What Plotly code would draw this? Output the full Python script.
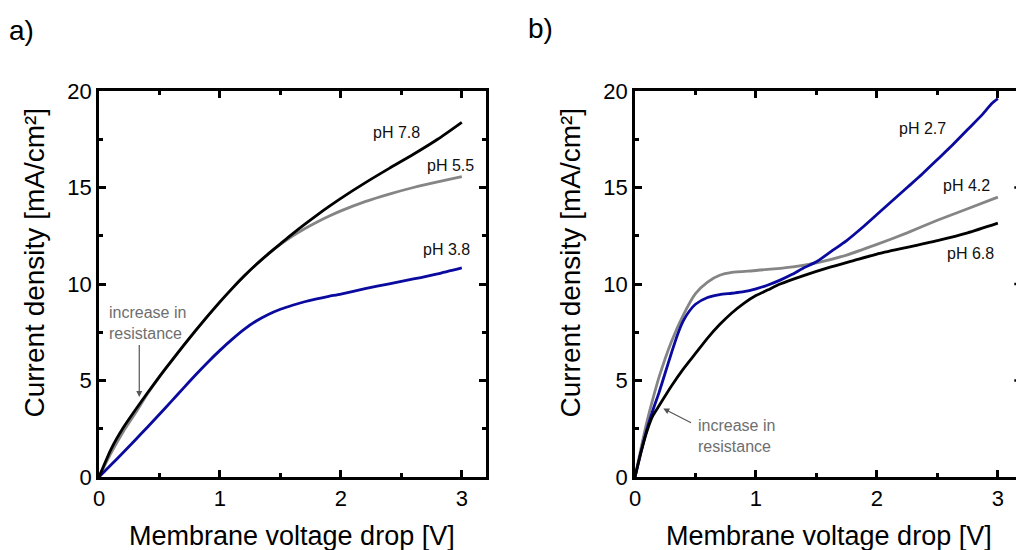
import plotly.graph_objects as go

FONT = "Liberation Sans, Arial, sans-serif"

# ---------------- Panel a) ----------------
a_x = [0, 0.1, 0.2, 0.3, 0.4, 0.5, 0.6, 0.7, 0.8, 0.9, 1.0, 1.1, 1.2, 1.3, 1.4, 1.5,
       1.6, 1.7, 1.8, 1.9, 2.0, 2.2, 2.4, 2.6, 2.8, 3.0]
a_ph78 = [0, 1.45, 2.55, 3.47, 4.35, 5.2, 6.02, 6.82, 7.6, 8.35, 9.07, 9.76, 10.41, 11.01,
          11.56, 12.08, 12.6, 13.09, 13.56, 14.01, 14.44, 15.24, 15.99, 16.72, 17.5, 18.38]
a_ph55 = [0, 1.25, 2.35, 3.3, 4.3, 5.2, 6.02, 6.82, 7.6, 8.35, 9.07, 9.76, 10.41, 11.01,
          11.56, 12.05, 12.48, 12.86, 13.2, 13.51, 13.79, 14.27, 14.66, 15.0, 15.29, 15.56]
a_ph38 = [0, 0.63, 1.27, 1.92, 2.58, 3.25, 3.93, 4.62, 5.30, 5.95, 6.56, 7.13, 7.65, 8.08,
          8.42, 8.69, 8.9, 9.08, 9.23, 9.36, 9.48, 9.76, 10.01, 10.26, 10.53, 10.84]

# ---------------- Panel b) ----------------
b_x27 = [0, 0.05, 0.1, 0.15, 0.2, 0.25, 0.3, 0.35, 0.4, 0.45, 0.5, 0.6, 0.7, 0.8, 0.9,
         1.0, 1.1, 1.2, 1.3, 1.4, 1.5, 1.625, 1.75, 1.875, 2.0, 2.125, 2.25, 2.375,
         2.5, 2.625, 2.75, 2.875, 2.95, 3.0]
b_ph27 = [0, 1.3, 2.5, 3.5, 4.4, 5.4, 6.4, 7.35, 8.1, 8.6, 8.95, 9.3, 9.45, 9.52, 9.6,
          9.75, 9.95, 10.2, 10.5, 10.85, 11.15, 11.7, 12.25, 12.9, 13.6, 14.3, 15.0, 15.7,
          16.45, 17.2, 18.0, 18.8, 19.35, 19.6]
b_x42 = [0, 0.05, 0.1, 0.15, 0.2, 0.3, 0.4, 0.5, 0.6, 0.7, 0.8, 1.0, 1.25, 1.5, 1.75,
         2.0, 2.25, 2.5, 2.75, 3.0]
b_ph42 = [0, 1.5, 2.9, 4.1, 5.2, 7.0, 8.4, 9.5, 10.1, 10.45, 10.6, 10.7, 10.85, 11.1, 11.5,
          12.05, 12.65, 13.3, 13.9, 14.5]
b_x68 = [0, 0.05, 0.1, 0.15, 0.2, 0.3, 0.4, 0.5, 0.6, 0.7, 0.8, 0.9, 1.0, 1.1, 1.2, 1.4,
         1.6, 1.8, 2.0, 2.25, 2.5, 2.75, 3.0]
b_ph68 = [0, 1.3, 2.4, 3.2, 3.7, 4.7, 5.6, 6.4, 7.2, 7.9, 8.5, 9.0, 9.4, 9.7, 10.0, 10.45,
          10.85, 11.2, 11.55, 11.9, 12.25, 12.65, 13.15]

x_ticks = [0, 1, 2, 3]
y_ticks = [0, 5, 10, 15, 20]

BLUE = "#0a0a9e"
GRAY = "#858585"
BLACK = "#000000"

fig = go.Figure()

def line(x, y, color, xa, ya):
    fig.add_trace(go.Scatter(x=x, y=y, mode="lines", xaxis=xa, yaxis=ya,
                             line=dict(color=color, width=2.8, shape="spline", smoothing=0.6),
                             showlegend=False, hoverinfo="skip"))

line(a_x, a_ph55, GRAY, "x", "y")
line(a_x, a_ph38, BLUE, "x", "y")
line(a_x, a_ph78, BLACK, "x", "y")

line(b_x42, b_ph42, GRAY, "x2", "y2")
line(b_x27, b_ph27, BLUE, "x2", "y2")
line(b_x68, b_ph68, BLACK, "x2", "y2")

def xax(domain, rng, anchor):
    return dict(domain=domain, range=rng, anchor=anchor, showline=True, linewidth=2.5,
                linecolor="black", mirror="ticks", ticks="inside", ticklen=7, tickwidth=2.5,
                tickcolor="black", tickvals=x_ticks, ticktext=[str(v) for v in x_ticks],
                showgrid=False, zeroline=False,
                tickfont=dict(size=22, color="black", family=FONT),
                minor=dict(ticks="inside", ticklen=4, tickwidth=2.5, tickcolor="black",
                           dtick=0.5, tick0=0, showgrid=False))

def yax(anchor, mirror):
    return dict(domain=[0, 1], range=[0, 20], anchor=anchor, showline=True, linewidth=2.5,
                linecolor="black", mirror=mirror, ticks="inside", ticklen=7, tickwidth=2.5,
                tickcolor="black", tickvals=y_ticks, ticktext=[str(v) for v in y_ticks],
                showgrid=False, zeroline=False,
                tickfont=dict(size=22, color="black", family=FONT),
                minor=dict(ticks="inside", ticklen=4, tickwidth=2.5, tickcolor="black",
                           dtick=2.5, tick0=0, showgrid=False))

W, H = 1016, 550
ML, MR, MT, MB = 99, 0, 91, 73
PW = W - ML - MR
PH = H - MT - MB

fig.update_layout(
    width=W, height=H, margin=dict(l=ML, r=MR, t=MT, b=MB),
    paper_bgcolor="white", plot_bgcolor="white",
    font=dict(family=FONT, color="black"),
    xaxis=xax([0, 387 / PW], [0, 3.2], "y"),
    yaxis=yax("x", "ticks"),
    xaxis2=xax([536 / PW, 1], [0, 381 / 120.95], "y2"),
    yaxis2=yax("x2", False),
)

def px_x(px):
    return (px - ML) / PW

def px_y(py):
    return (H - MB - py) / PH

ann = []
# panel letters
ann.append(dict(text="a)", x=px_x(21.5), y=px_y(30), xref="paper", yref="paper",
                showarrow=False, font=dict(size=28), xanchor="center", yanchor="middle"))
ann.append(dict(text="b)", x=px_x(540), y=px_y(28), xref="paper", yref="paper",
                showarrow=False, font=dict(size=28), xanchor="center", yanchor="middle"))
# axis titles
for cx in (291.5, 828.5):
    ann.append(dict(text="Membrane voltage drop [V]", x=px_x(cx), y=px_y(536),
                    xref="paper", yref="paper", showarrow=False, font=dict(size=27),
                    xanchor="center", yanchor="middle"))
for cx in (33.5, 569.5):
    ann.append(dict(text="Current density [mA/cm²]", x=px_x(cx), y=px_y(263),
                    xref="paper", yref="paper", showarrow=False, font=dict(size=28),
                    textangle=-90, xanchor="center", yanchor="middle"))

# curve labels
labels = [("pH 7.8", 2.46, 17.83, "x", "y"), ("pH 5.5", 2.91, 16.15, "x", "y"),
          ("pH 3.8", 2.87, 11.8, "x", "y"), ("pH 2.7", 2.38, 18.06, "x2", "y2"),
          ("pH 4.2", 2.74, 15.12, "x2", "y2"), ("pH 6.8", 2.77, 11.58, "x2", "y2")]
for t, x, y, xr, yr in labels:
    ann.append(dict(text=t, x=x, y=y, xref=xr, yref=yr, showarrow=False,
                    font=dict(size=16, color="#111111"), xanchor="center", yanchor="middle"))

# increase in resistance
ann.append(dict(text="increase in<br>resistance", x=0.069, y=7.98, xref="x", yref="y",
                showarrow=False, align="left", xanchor="left", yanchor="middle",
                font=dict(size=16, color="#6e6e6e")))
ann.append(dict(text="increase in<br>resistance", x=0.504, y=2.13, xref="x2", yref="y2",
                showarrow=False, align="left", xanchor="left", yanchor="middle",
                font=dict(size=16, color="#6e6e6e")))
ann.append(dict(text="", x=0.333, y=4.15, ax=0.333, ay=6.92, xref="x", yref="y",
                axref="x", ayref="y", showarrow=True, arrowhead=2, arrowsize=1,
                arrowwidth=1.2, arrowcolor="#555555"))
ann.append(dict(text="", x=0.234, y=3.55, ax=0.476, ay=2.77, xref="x2", yref="y2",
                axref="x2", ayref="y2", showarrow=True, arrowhead=2, arrowsize=1,
                arrowwidth=1.2, arrowcolor="#555555"))
fig.update_layout(annotations=ann)

# right-edge tick stubs of panel b (its right axis lies just outside the page)
shapes = []
for v in y_ticks[1:-1]:
    shapes.append(dict(type="line", xref="paper", yref="y2", x0=px_x(1014.3), x1=1.0,
                       y0=v, y1=v, line=dict(color="black", width=2.5)))
fig.update_layout(shapes=shapes)

fig.write_html("out.html")
